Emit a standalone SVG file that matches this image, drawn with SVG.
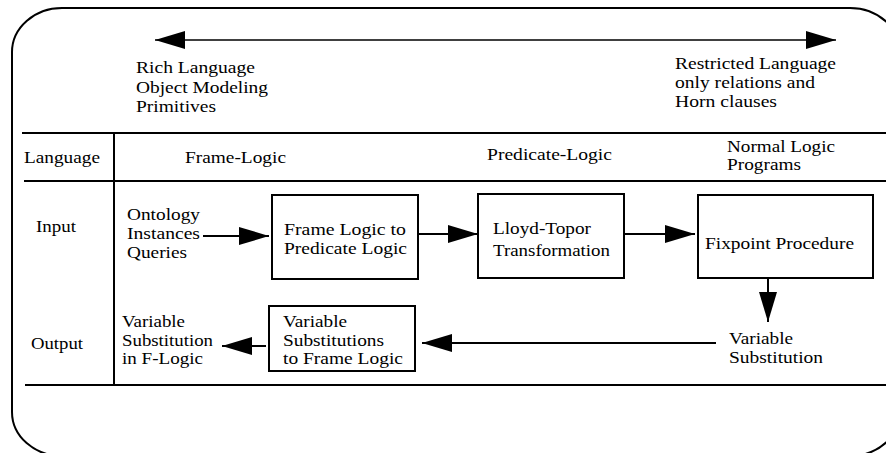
<svg xmlns="http://www.w3.org/2000/svg" width="886" height="453" viewBox="0 0 886 453">
<style>
text{font-family:'Liberation Serif','Times New Roman',serif;font-size:17px;fill:#000}
.box{fill:#fff;stroke:#000;stroke-width:2}
.rule{stroke:#000;stroke-width:2;fill:none}
.c{stroke:#000;fill:none;stroke-width:2;marker-end:url(#ah)}
</style>
<defs>
<marker id="ah" markerUnits="userSpaceOnUse" markerWidth="30" markerHeight="18" refX="30" refY="9" orient="auto-start-reverse">
<path d="M0,0 L30,9 L0,18 z" fill="#000"/>
</marker>
</defs>
<rect width="886" height="453" fill="#fff"/>
<rect id="frame" x="12" y="8" width="888" height="448" rx="50" ry="44" fill="none" stroke="#000" stroke-width="2"/>
<g id="table">
<line class="rule" x1="22" y1="133" x2="886" y2="133"/>
<line class="rule" x1="24" y1="181" x2="886" y2="181"/>
<line class="rule" x1="25" y1="385" x2="886" y2="385"/>
<line class="rule" x1="114" y1="133" x2="114" y2="385" stroke-width="1.5"/>
</g>
<g id="scale-labels">
<text x="136" y="73" textLength="119" lengthAdjust="spacingAndGlyphs">Rich Language</text>
<text x="136" y="92.5" textLength="132" lengthAdjust="spacingAndGlyphs">Object Modeling</text>
<text x="136" y="112" textLength="80" lengthAdjust="spacingAndGlyphs">Primitives</text>
<text x="675" y="69" textLength="161" lengthAdjust="spacingAndGlyphs">Restricted Language</text>
<text x="675" y="88" textLength="140" lengthAdjust="spacingAndGlyphs">only relations and</text>
<text x="675" y="107" textLength="102" lengthAdjust="spacingAndGlyphs">Horn clauses</text>
</g>
<g id="header">
<text x="24" y="163" textLength="76" lengthAdjust="spacingAndGlyphs">Language</text>
<text x="185" y="163" textLength="101" lengthAdjust="spacingAndGlyphs">Frame-Logic</text>
<text x="487" y="160" textLength="125" lengthAdjust="spacingAndGlyphs">Predicate-Logic</text>
<text x="727" y="152" textLength="108" lengthAdjust="spacingAndGlyphs">Normal Logic</text>
<text x="727" y="170" textLength="74" lengthAdjust="spacingAndGlyphs">Programs</text>
<text x="36" y="232" textLength="40" lengthAdjust="spacingAndGlyphs">Input</text>
<text x="31" y="349" textLength="52" lengthAdjust="spacingAndGlyphs">Output</text>
</g>
<g id="inputs">
<text x="127" y="220" textLength="73" lengthAdjust="spacingAndGlyphs">Ontology</text>
<text x="127" y="239" textLength="73" lengthAdjust="spacingAndGlyphs">Instances</text>
<text x="127" y="258" textLength="60" lengthAdjust="spacingAndGlyphs">Queries</text>
</g>
<g id="flogic-to-plogic">
<rect class="box" x="272" y="195" width="146" height="84"/>
<text x="284" y="235" textLength="122" lengthAdjust="spacingAndGlyphs">Frame Logic to</text>
<text x="284" y="254" textLength="123" lengthAdjust="spacingAndGlyphs">Predicate Logic</text>
</g>
<g id="lloyd-topor">
<rect class="box" x="478" y="194" width="146" height="84"/>
<text x="493" y="234" textLength="98" lengthAdjust="spacingAndGlyphs">Lloyd-Topor</text>
<text x="493" y="256" textLength="117" lengthAdjust="spacingAndGlyphs">Transformation</text>
</g>
<g id="fixpoint">
<rect class="box" x="698" y="195" width="175" height="83"/>
<text x="705" y="249" textLength="149" lengthAdjust="spacingAndGlyphs">Fixpoint Procedure</text>
</g>
<g id="var-subst">
<text x="729" y="344" textLength="64" lengthAdjust="spacingAndGlyphs">Variable</text>
<text x="729" y="363" textLength="94" lengthAdjust="spacingAndGlyphs">Substitution</text>
</g>
<g id="subst-to-flogic">
<rect class="box" x="269" y="306" width="146" height="65"/>
<text x="283" y="327" textLength="64" lengthAdjust="spacingAndGlyphs">Variable</text>
<text x="283" y="346" textLength="101" lengthAdjust="spacingAndGlyphs">Substitutions</text>
<text x="283" y="364" textLength="120" lengthAdjust="spacingAndGlyphs">to Frame Logic</text>
</g>
<g id="result">
<text x="122" y="327" textLength="63" lengthAdjust="spacingAndGlyphs">Variable</text>
<text x="122" y="346" textLength="91" lengthAdjust="spacingAndGlyphs">Substitution</text>
<text x="122" y="364" textLength="81" lengthAdjust="spacingAndGlyphs">in F-Logic</text>
</g>
<g id="connectors">
<path d="M155,40 H836" stroke="#000" stroke-width="1.3" fill="none" marker-start="url(#ah)" marker-end="url(#ah)"/>
<path class="c" d="M203,236 H269"/>
<path class="c" d="M419,234 H478" stroke-width="1.5"/>
<path class="c" d="M624,234 H695" stroke-width="1.5"/>
<path class="c" d="M768,278 V322"/>
<path class="c" d="M716,343 H422"/>
<path class="c" d="M266,346 H222"/>
</g>
</svg>
